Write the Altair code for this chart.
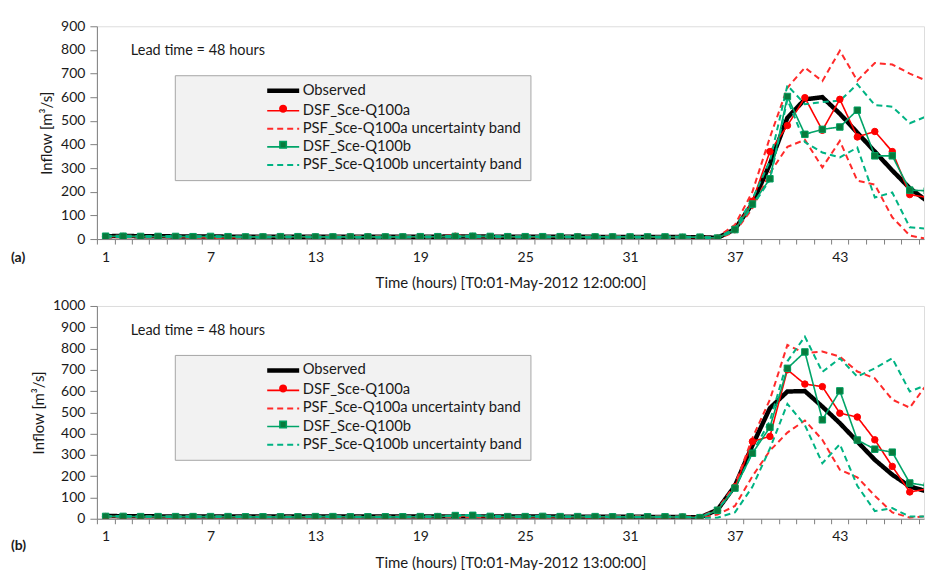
import altair as alt
import pandas as pd

HOURS = list(range(1, 49))
X_LABEL_HOURS = [1, 7, 13, 19, 25, 31, 37, 43]

SERIES = [
    "Observed",
    "DSF_Sce-Q100a",
    "PSF_Sce-Q100a uncertainty band",
    "DSF_Sce-Q100b",
    "PSF_Sce-Q100b uncertainty band",
]

# ---------------- panel (a): T0 01-May-2012 12:00 ----------------
a_observed = [12, 13, 12, 12, 11, 11, 11, 10, 10, 10,
              10, 10, 10, 10, 10, 10, 10, 10, 10, 10,
              11, 11, 10, 10, 10, 10, 10, 10, 9, 9,
              9, 9, 9, 8, 8, 5, 42, 150, 318, 513,
              591, 600, 530, 450, 370, 290, 215, 160]
a_dsf_q100a = [10, 11, 10, 10, 9, 9, 5, 4, 8, 9,
               10, 10, 9, 9, 10, 10, 9, 9, 10, 10,
               12, 11, 10, 10, 9, 9, 10, 10, 9, 9,
               8, 8, 8, 7, 7, 4, 40, 160, 370, 480,
               598, 460, 591, 432, 455, 370, 188, 176]
a_psf_q100a_upper = [13, 14, 13, 13, 12, 12, 9, 8, 11, 12,
                     13, 13, 12, 12, 13, 13, 12, 12, 13, 13,
                     15, 14, 13, 13, 12, 12, 13, 13, 12, 12,
                     11, 11, 11, 10, 10, 8, 60, 200, 430, 640,
                     725, 668, 797, 670, 745, 738, 700, 668]
a_psf_q100a_lower = [7, 8, 7, 7, 6, 6, 3, 2, 5, 6,
                     7, 7, 6, 6, 7, 7, 6, 6, 7, 7,
                     9, 8, 7, 7, 6, 6, 7, 7, 6, 6,
                     5, 5, 5, 4, 4, 2, 30, 130, 280, 390,
                     420, 303, 415, 247, 230, 92, 15, 0]
a_dsf_q100b = [12, 12, 11, 11, 11, 10, 11, 10, 9, 9,
               10, 10, 9, 9, 9, 9, 9, 9, 10, 10,
               11, 12, 11, 10, 10, 10, 10, 9, 9, 9,
               9, 9, 9, 8, 8, 4, 40, 148, 255, 603,
               443, 464, 474, 545, 352, 352, 207, 204]
a_psf_q100b_upper = [14, 14, 13, 13, 13, 12, 13, 12, 11, 11,
                     12, 12, 11, 11, 11, 11, 11, 11, 12, 12,
                     13, 14, 13, 12, 12, 12, 12, 11, 11, 11,
                     11, 11, 11, 10, 10, 6, 45, 170, 330, 650,
                     570, 580, 585, 655, 567, 560, 490, 520]
a_psf_q100b_lower = [9, 9, 8, 8, 8, 7, 8, 7, 6, 6,
                     7, 7, 6, 6, 6, 6, 6, 6, 7, 7,
                     8, 9, 8, 7, 7, 7, 7, 6, 6, 6,
                     6, 6, 6, 5, 5, 3, 35, 140, 250, 590,
                     410, 366, 345, 387, 176, 197, 50, 44]

# ---------------- panel (b): T0 01-May-2012 13:00 ----------------
b_observed = [13, 12, 12, 11, 11, 11, 10, 10, 10, 10,
              10, 10, 10, 10, 10, 10, 10, 10, 10, 11,
              11, 10, 10, 10, 10, 10, 10, 9, 9, 9,
              9, 9, 8, 8, 6, 42, 155, 345, 520, 598,
              600, 527, 449, 363, 277, 207, 152, 128]
b_dsf_q100a = [10, 10, 9, 9, 9, 10, 9, 9, 8, 9,
               9, 9, 9, 9, 9, 9, 9, 9, 9, 10,
               12, 11, 9, 9, 9, 9, 9, 9, 9, 9,
               10, 9, 8, 8, 6, 40, 150, 363, 387, 700,
               633, 621, 496, 478, 371, 246, 126, 140]
b_psf_q100a_upper = [13, 13, 12, 12, 12, 13, 12, 12, 11, 12,
                     12, 12, 12, 12, 12, 12, 12, 12, 12, 13,
                     15, 14, 12, 12, 12, 12, 12, 12, 12, 12,
                     13, 12, 11, 11, 9, 45, 160, 380, 560, 817,
                     778, 786, 762, 692, 660, 560, 522, 635]
b_psf_q100a_lower = [7, 7, 6, 6, 6, 7, 6, 6, 5, 6,
                     6, 6, 6, 6, 6, 6, 6, 6, 6, 7,
                     9, 8, 6, 6, 6, 6, 6, 6, 6, 6,
                     7, 6, 5, 5, 3, 20, 60, 200, 320, 405,
                     462, 371, 230, 195, 108, 30, 5, 12]
b_dsf_q100b = [11, 11, 10, 10, 10, 10, 10, 10, 9, 9,
               9, 9, 10, 10, 9, 9, 9, 9, 10, 10,
               15, 16, 11, 10, 10, 11, 10, 10, 10, 9,
               9, 9, 9, 8, 5, 40, 144, 308, 430, 707,
               784, 465, 601, 370, 327, 313, 168, 155]
b_psf_q100b_upper = [13, 13, 12, 12, 12, 12, 12, 12, 11, 11,
                     11, 11, 12, 12, 11, 11, 11, 11, 12, 12,
                     17, 18, 13, 12, 12, 13, 12, 12, 12, 11,
                     11, 11, 11, 10, 7, 42, 145, 310, 460, 740,
                     856, 690, 754, 668, 707, 754, 598, 630]
b_psf_q100b_lower = [9, 9, 8, 8, 8, 8, 8, 8, 7, 7,
                     7, 7, 8, 8, 7, 7, 7, 7, 8, 8,
                     13, 14, 9, 8, 8, 9, 8, 8, 8, 7,
                     7, 7, 7, 6, 3, 5, 30, 150, 330, 540,
                     440, 261, 350, 155, 36, 50, 10, 10]

# ---------------- styling ----------------
COLORS = ["#000000", "#ff0000", "#ff2a2a", "#00a468", "#00b383"]
DASHES = [[1, 0], [1, 0], [6, 4], [1, 0], [6, 4]]
WIDTHS = [4.5, 1.6, 2, 1.6, 2]
MARKERS = [s + " " for s in SERIES]          # marker-legend domain (labels hidden)
MK_SHAPES = ["circle", "circle", "circle", "square", "circle"]
MK_FILL = ["transparent", "#ff0000", "transparent", "#087a3c", "transparent"]
MK_STROKE = ["transparent", "#ff0000", "transparent", "#00a060", "transparent"]
FONT = "Lato"
TXT = "#1a1a1a"
AXC = "#7f7f7f"

PX_PER_HOUR = 17.5
W = 828
H = 213
XMAX = 0.5 + W / PX_PER_HOUR
LINE_SYMBOL = "M-3.2,0H3.2"


def build_df(obs, dsfa, pau, pal, dsfb, pbu, pbl):
    parts = [
        (obs, SERIES[0], "obs"),
        (dsfa, SERIES[1], "dsfa"),
        (pau, SERIES[2], "pa_up"),
        (pal, SERIES[2], "pa_lo"),
        (dsfb, SERIES[3], "dsfb"),
        (pbu, SERIES[4], "pb_up"),
        (pbl, SERIES[4], "pb_lo"),
    ]
    rows = []
    for vals, s, ln in parts:
        for h, v in zip(HOURS, vals):
            rows.append({"hour": h, "value": v, "series": s, "line": ln, "mk": s + " "})
    return pd.DataFrame(rows)


def common_legend(**kw):
    base = dict(
        orient="none",
        legendX=78,
        legendY=49,
        direction="vertical",
        title=None,
        padding=8,
        symbolSize=100,
        symbolStrokeWidth=1.5,
        symbolOffset=93,
        labelOffset=12,
        rowPadding=2.1,
        labelFontSize=14.8,
        labelFont=FONT,
        labelLimit=400,
    )
    base.update(kw)
    return alt.Legend(**base)


def panel(df, ymax, xtitle, tag, tag_dy):
    tick_vals = [i + 0.5 for i in range(0, 48)]
    xvals = sorted(tick_vals + X_LABEL_HOURS)
    x = alt.X(
        "hour:Q",
        scale=alt.Scale(domain=[0.5, XMAX], nice=False, zero=False),
        axis=alt.Axis(
            values=xvals,
            labelExpr="datum.value % 1 === 0 ? format(datum.value, 'd') : ''",
            tickOpacity={"condition": {"test": "datum.value % 1 !== 0", "value": 1}, "value": 0},
            title=xtitle,
            grid=False,
            tickSize=5,
            labelPadding=6,
            titlePadding=12,
            labelOverlap=False,
            labelFlush=False,
            labelFontSize=14,
            titleFontSize=15,
            titleFontWeight="normal",
            labelColor=TXT,
            titleColor=TXT,
            domainColor=AXC,
            tickColor=AXC,
            labelFont=FONT,
            titleFont=FONT,
        ),
    )
    y = alt.Y(
        "value:Q",
        scale=alt.Scale(domain=[0, ymax], nice=False),
        axis=alt.Axis(
            values=list(range(0, ymax + 1, 100)),
            format="d",
            title="Inflow [m³/s]",
            grid=False,
            tickSize=7,
            labelPadding=5,
            titlePadding=6,
            labelFontSize=14,
            titleFontSize=15,
            titleFontWeight="normal",
            labelColor=TXT,
            titleColor=TXT,
            domainColor=AXC,
            tickColor=AXC,
            labelFont=FONT,
            titleFont=FONT,
        ),
    )
    leg_lines = common_legend(fillColor="#f2f2f2", strokeColor="#a6a6a6",
                              labelColor=TXT, symbolType=LINE_SYMBOL)
    leg_marks = common_legend(labelExpr="''", symbolSize=42, zindex=2)

    base = alt.Chart(df)
    lines = base.mark_line(clip=True).encode(
        x=x,
        y=y,
        color=alt.Color("series:N", scale=alt.Scale(domain=SERIES, range=COLORS), legend=leg_lines),
        detail="line:N",
        strokeDash=alt.StrokeDash("series:N", scale=alt.Scale(domain=SERIES, range=DASHES), legend=leg_lines),
        strokeWidth=alt.StrokeWidth("series:N", scale=alt.Scale(type="ordinal", domain=SERIES, range=WIDTHS),
                                    legend=leg_lines),
    )
    pts = base.transform_filter(
        (alt.datum.series == SERIES[1]) | (alt.datum.series == SERIES[3])
    ).mark_point(size=42, opacity=1, strokeWidth=1, clip=True).encode(
        x=x,
        y=y,
        shape=alt.Shape("mk:N", scale=alt.Scale(domain=MARKERS, range=MK_SHAPES), legend=leg_marks),
        fill=alt.Fill("mk:N", scale=alt.Scale(domain=MARKERS, range=MK_FILL), legend=leg_marks),
        stroke=alt.Stroke("mk:N", scale=alt.Scale(domain=MARKERS, range=MK_STROKE), legend=leg_marks),
    )
    lead = alt.Chart(pd.DataFrame({"t": ["Lead time = 48 hours"]})).mark_text(
        align="left", baseline="middle", fontSize=14.5, font=FONT, color=TXT
    ).encode(text="t:N", x=alt.value(34), y=alt.value(25))
    tagt = alt.Chart(pd.DataFrame({"t": [tag]})).mark_text(
        align="left", baseline="middle", fontSize=14, font=FONT, fontWeight="bold", color=TXT
    ).encode(text="t:N", x=alt.value(-86), y=alt.value(H + tag_dy))
    return alt.layer(lines, pts, lead, tagt).properties(width=W, height=H)


df_a = build_df(a_observed, a_dsf_q100a, a_psf_q100a_upper, a_psf_q100a_lower,
                a_dsf_q100b, a_psf_q100b_upper, a_psf_q100b_lower)
df_b = build_df(b_observed, b_dsf_q100a, b_psf_q100a_upper, b_psf_q100a_lower,
                b_dsf_q100b, b_psf_q100b_upper, b_psf_q100b_lower)

pa = panel(df_a, 900, "Time (hours) [T0:01-May-2012 12:00:00]", "(a)", 19)
pb = panel(df_b, 1000, "Time (hours) [T0:01-May-2012 13:00:00]", "(b)", 27)

chart = (
    alt.vconcat(pa, pb, spacing=6)
    .resolve_scale(x="independent", y="independent", color="independent",
                   strokeDash="independent", strokeWidth="independent",
                   shape="independent", fill="independent", stroke="independent")
    .resolve_legend(color="independent", strokeDash="independent", strokeWidth="independent",
                    shape="independent", fill="independent", stroke="independent")
    .properties(padding={"left": 10, "top": 18, "right": 0, "bottom": 0}, background="white")
    .configure_view(stroke="#a6a6a6", strokeWidth=1.5)
    .configure(font=FONT)
)

chart.save("out.html", embed_options={"renderer": "svg", "actions": False})
